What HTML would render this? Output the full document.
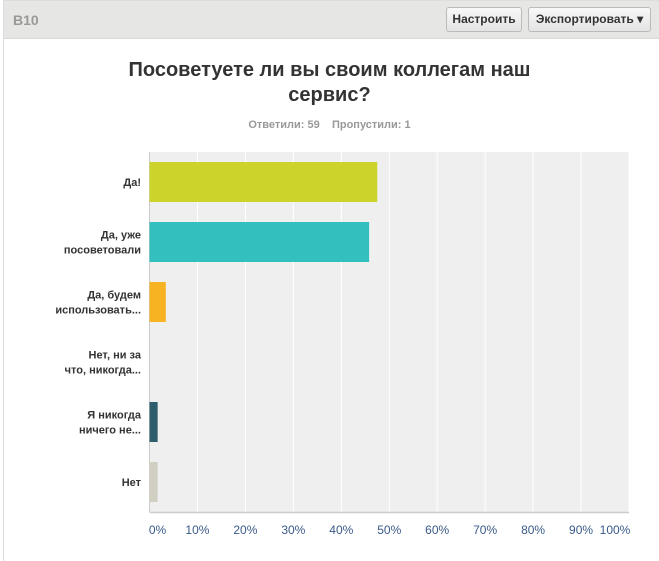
<!DOCTYPE html>
<html><head><meta charset="utf-8"><style>
body{margin:0;width:659px;height:558px;overflow:hidden;background:#fff;font-family:"Liberation Sans","Noto Sans CJK SC",sans-serif;}
.card{position:absolute;left:3px;top:0;width:660px;height:560px;border-left:1px solid #ddd;border-top:1px solid #ddd;background:#fff}
.hdr{position:absolute;left:0;top:0;width:660px;height:37px;background:#e6e6e4;border-bottom:1px solid #d8d8d6}
.qid{position:absolute;left:9px;top:11px;font-size:14px;font-weight:bold;color:#999}
.btn{position:absolute;top:6px;height:23px;border:1px solid #bbb;border-radius:3px;background:linear-gradient(#f8f8f8,#e4e4e4);font-size:12px;font-weight:bold;color:#333;line-height:23px;text-align:center}
h1{position:absolute;left:0;width:659px;top:58px;margin:0;text-align:center;font-size:20px;line-height:25px;color:#333;font-weight:bold}
.stats{position:absolute;top:119px;left:0;width:659px;text-align:center;font-size:11px;color:#999;font-weight:bold}
</style></head><body>
<div class="card">
<div class="hdr">
<div class="qid">B10</div>
<div class="btn" style="left:442px;width:74px">Настроить</div>
<div class="btn" style="left:524px;width:121px">Экспортировать ▾</div>
</div></div>
<h1>Посоветуете ли вы своим коллегам наш<br>сервис?</h1>
<div class="stats">Ответили: 59 &nbsp;&nbsp; Пропустили: 1</div>
<svg id="chart" width="659" height="558" style="position:absolute;left:0;top:0"></svg>
<script>
const categories=[["Да!"],["Да, уже","посоветовали"],["Да, будем","использовать..."],["Нет, ни за","что, никогда..."],["Я никогда","ничего не..."],["Нет"]];
const values=[47.5,45.8,3.4,0,1.7,1.7];
const colors=["#ccd32a","#32bfbe","#f8b322","#6b3d6b","#2e5e6b","#d1cfc1"];
const ticks=[0,10,20,30,40,50,60,70,80,90,100];
const tickLabels=["0%","10%","20%","30%","40%","50%","60%","70%","80%","90%","100%"];
const svg=document.getElementById('chart');
const NS='http://www.w3.org/2000/svg';
const X0=149.5,X1=629,Y0=152,BAND=60;
const x=v=>X0+(X1-X0)*v/100;
const y=i=>Y0+i*BAND;
function mk(t,a){const e=document.createElementNS(NS,t);for(const k in a)e.setAttribute(k,a[k]);svg.appendChild(e);return e;}
const bg=mk('rect',{x:X0,y:Y0,width:X1-X0,height:BAND*categories.length,fill:'#efefef'});


ticks.forEach((t,i)=>{
 const g=mk('line',{x1:x(t),x2:x(t),y1:Y0,y2:Y0+BAND*categories.length,stroke:'#fff','stroke-width':1});
 
 
 const lb=mk('text',{x:i==0?x(t)+8:(i==10?x(t)-14:x(t)),y:534,'text-anchor':'middle','font-size':12,fill:'#3a5a8a'});
 lb.textContent=tickLabels[i];
 
 
});
const ax=mk('line',{x1:X0,x2:X1,y1:Y0+BAND*6+0.5,y2:Y0+BAND*6+0.5,stroke:'#ccc','stroke-width':1.5});


const ay=mk('line',{x1:X0,x2:X0,y1:Y0,y2:Y0+BAND*6,stroke:'#ccc'});


categories.forEach((c,i)=>{
 const b=mk('rect',{x:X0,y:y(i)+10,width:x(values[i])-X0,height:40,fill:colors[i]});
 
 
 const cy=y(i)+30;
 c.forEach((ln,j)=>{
  const t=mk('text',{x:141,y:cy+4+(j-(c.length-1)/2)*15,'text-anchor':'end','font-size':11,'font-weight':'bold',fill:'#333'});
  t.textContent=ln;
  
  
 });
});
</script>
</body></html>
